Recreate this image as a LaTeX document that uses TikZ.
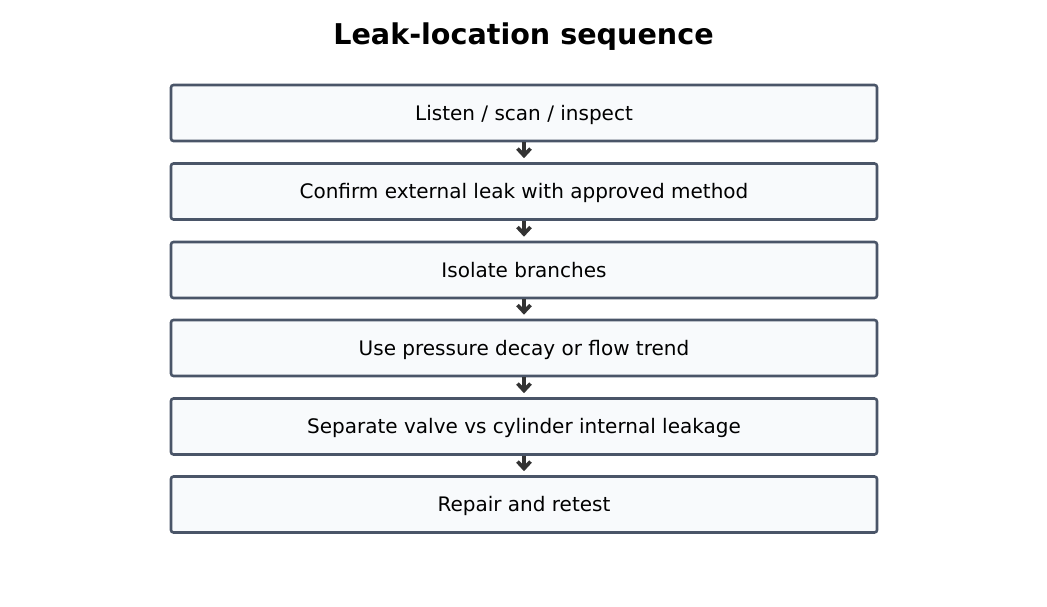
\documentclass[tikz,border=0pt]{standalone}
\usepackage{fontspec}
\setmainfont{DejaVu Sans}
\usetikzlibrary{arrows.meta}
\definecolor{boxline}{HTML}{4A5568}
\definecolor{boxfill}{HTML}{F8FAFC}
\definecolor{arrowcol}{HTML}{333333}
\tikzset{
	stepbox/.style={draw=boxline, fill=boxfill, line width=2.6pt, rounded corners=2.5pt,
		minimum width=706pt, minimum height=56pt, inner sep=0pt,
		text height=16pt, text depth=1.6pt,
		font=\fontsize{20}{24}\selectfont},
	flowarrow/.style={draw=arrowcol, line width=3.2pt, shorten >=4pt,
		-{Straight Barb[length=7pt, width=13pt, line width=3.6pt]}}
}
\begin{document}
\begin{tikzpicture}[x=1pt, y=1pt]
		%%%%% START %%%%%
		
		\useasboundingbox (0, 0) rectangle (1047, 606);
		
		\node[font=\fontsize{28.6}{34}\selectfont\bfseries] (title) at (523.5, 569) {Leak-location sequence};
		
		\node[stepbox] (listen) at (524, 493) {Listen / scan / inspect};
		\node[stepbox] (confirm) at (524, 414.5) {Confirm external leak with approved method};
		\node[stepbox] (isolate) at (524, 336) {Isolate branches};
		\node[stepbox] (decay) at (524, 258) {Use pressure decay or flow trend};
		\node[stepbox] (separate) at (524, 179.5) {Separate valve vs cylinder internal leakage};
		\node[stepbox] (repair) at (524, 101.5) {Repair and retest};
		
		\draw[flowarrow] (listen) -- (confirm);
		\draw[flowarrow] (confirm) -- (isolate);
		\draw[flowarrow] (isolate) -- (decay);
		\draw[flowarrow] (decay) -- (separate);
		\draw[flowarrow] (separate) -- (repair);
		
		%%%%% END %%%%%
\end{tikzpicture}
\end{document}
